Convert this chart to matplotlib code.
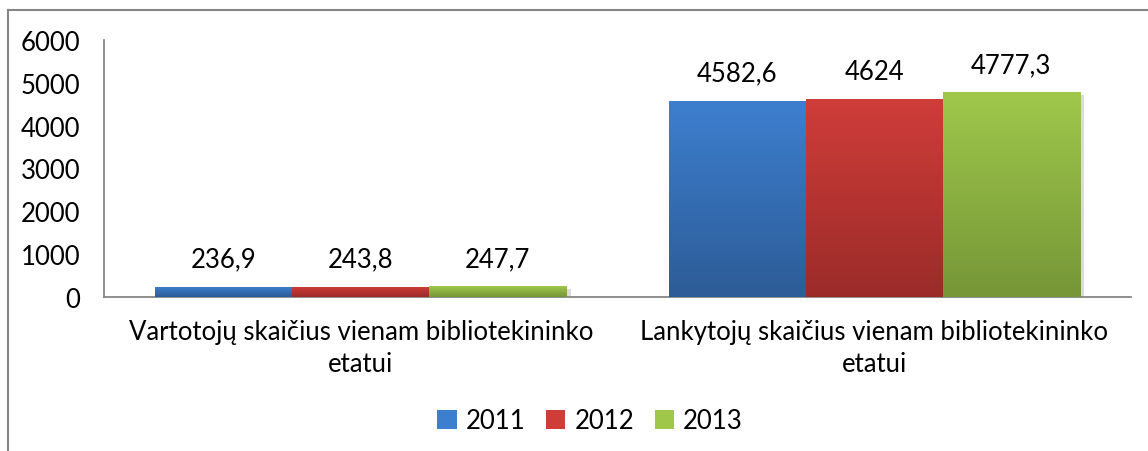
import matplotlib
matplotlib.use("Agg")
import matplotlib.pyplot as plt
import matplotlib.patheffects as pe
from matplotlib.colors import LinearSegmentedColormap
from matplotlib.patches import Patch
from matplotlib.lines import Line2D
import numpy as np

# data
categories = ["Vartotojų skaičius vienam bibliotekininko\netatui",
              "Lankytojų skaičius vienam bibliotekininko\netatui"]
years = ["2011", "2012", "2013"]
values_2011 = [236.9, 4582.6]
values_2012 = [243.8, 4624]
values_2013 = [247.7, 4777.3]
value_labels = [["236,9", "4582,6"], ["243,8", "4624"], ["247,7", "4777,3"]]

# (top colour, bottom colour) for each series
colors = [("#3d7fcf", "#2d5c97"), ("#cf3d39", "#9b2b29"), ("#9fc84b", "#769637")]

plt.rcParams['font.family'] = ['Lato', 'DejaVu Sans']
fs = 18.5

fig = plt.figure(figsize=(11.48, 4.52), dpi=100)
ax = fig.add_axes([104/1148, 1 - 298/452, (1131 - 104)/1148, (298 - 41)/452])

series = [values_2011, values_2012, values_2013]
x = np.arange(len(categories))
w = 0.267
grad = np.linspace(0, 1, 256).reshape(-1, 1)

for i, vals in enumerate(series):
    bars = ax.bar(x + (i - 1) * w, vals, width=w, color=colors[i][0], zorder=2,
                  path_effects=[pe.SimplePatchShadow(offset=(3, -2), shadow_rgbFace="#999999", alpha=0.35),
                                pe.Normal()])
    cmap = LinearSegmentedColormap.from_list("g%d" % i, [colors[i][1], colors[i][0]])
    for b, lab in zip(bars, value_labels[i]):
        x0 = b.get_x()
        h = b.get_height()
        im = ax.imshow(grad, extent=[x0, x0 + w, 0, h], origin="lower", aspect="auto",
                       cmap=cmap, zorder=3)
        im.set_clip_path(b)
        ax.annotate(lab, (x0 + w / 2, h), xytext=(0, 11), textcoords="offset points",
                    ha="center", va="bottom", fontsize=fs)

ax.set_xlim(-0.5, 1.5)
ax.set_ylim(0, 6000)
ax.set_yticks(range(0, 6001, 1000))
ax.set_xticks(x)
ax.set_xticklabels(categories, fontsize=fs, linespacing=1.35)
ax.tick_params(axis="both", length=0, labelsize=fs)
ax.tick_params(axis="x", pad=16)
ax.tick_params(axis="y", pad=17)
for s in ["top", "right"]:
    ax.spines[s].set_visible(False)
for s in ["left", "bottom"]:
    ax.spines[s].set_color("#868686")
    ax.spines[s].set_linewidth(1.3)

handles = [Patch(facecolor=c[0], edgecolor="none") for c in colors]
fig.legend(handles, years, loc="center", bbox_to_anchor=(590/1148, 1 - 422/452), ncol=3,
           frameon=False, fontsize=fs, handlelength=0.75, handleheight=0.75,
           handletextpad=0.35, columnspacing=0.8)

# outer chart frame (only top and left edges visible)
fig.add_artist(Line2D([8/1148, 1.0], [1 - 11/452, 1 - 11/452], color="#868686", lw=1.5,
                      transform=fig.transFigure))
fig.add_artist(Line2D([8/1148, 8/1148], [0.0, 1 - 11/452], color="#868686", lw=1.5,
                      transform=fig.transFigure))

fig.savefig("out.png", dpi=100)
